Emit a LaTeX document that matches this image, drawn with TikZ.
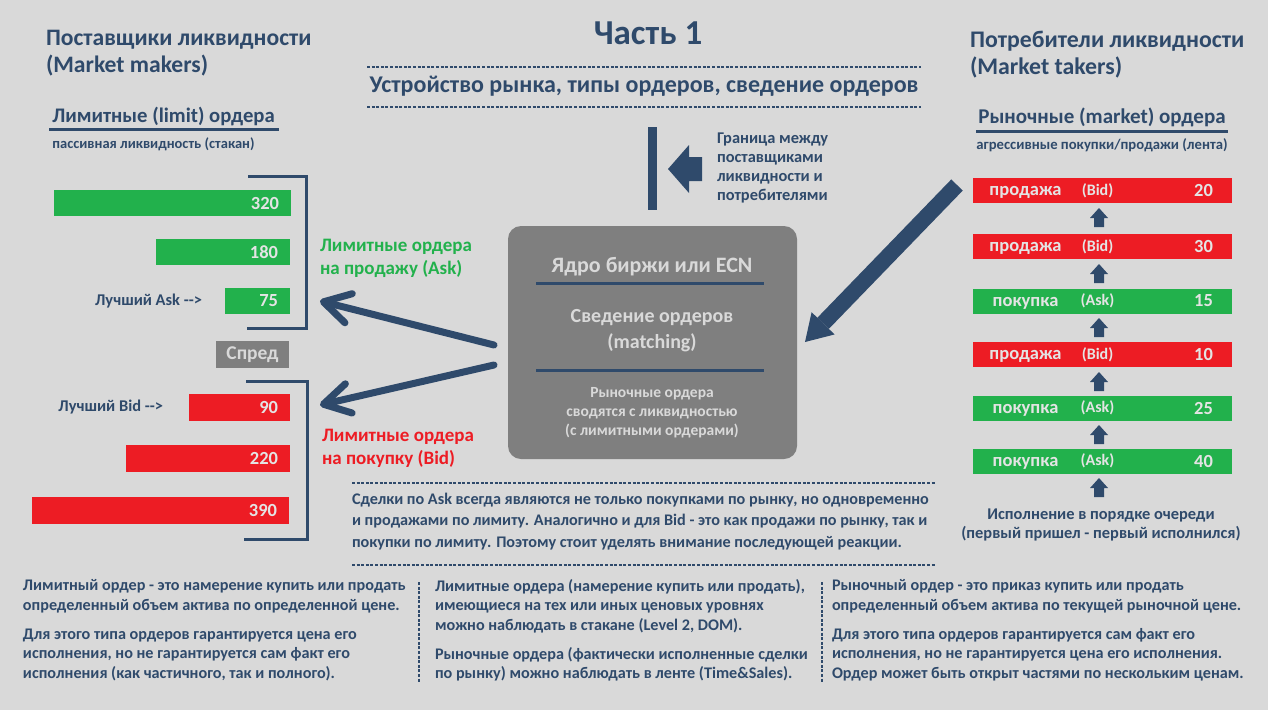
\documentclass[tikz,border=0pt]{standalone}
\usepackage{fontspec}
\setmainfont{Carlito}
\usetikzlibrary{arrows.meta}
\definecolor{bg}{HTML}{D9D9D9}
\definecolor{navy}{HTML}{2F4A6B}
\definecolor{grn}{HTML}{22B14C}
\definecolor{rd}{HTML}{ED1C24}
\definecolor{boxg}{HTML}{7F7F7F}
\definecolor{lt}{HTML}{E4E4E4}
\newcommand\fsz[2]{\fontsize{#1}{#2}\selectfont}
\begin{document}
\begin{tikzpicture}[x=1pt,y=-1pt,
 every node/.style={inner sep=0pt, outer sep=0pt, text=navy, font=\bfseries},
 lbar/.style={minimum height=26pt, align=right, inner xsep=12pt, text=lt, font=\bfseries\fsz{18.5}{20}},
 rbar/.style={minimum width=259pt, minimum height=25pt},
 rword/.style={text=lt, font=\bfseries\fsz{18.5}{20}},
 rpar/.style={text=lt, font=\bfseries\fsz{16}{18}},
 rnum/.style={text=lt, font=\bfseries\fsz{18.5}{20}},
 dashln/.style={navy, line width=1.3pt, dash pattern=on 3pt off 1.6pt},
 bracket/.style={navy, line width=3pt},
 para/.style={align=left, font=\bfseries\fsz{16.2}{19.5}},
 thinarrow/.style={navy, line width=7pt, line cap=round, -{Straight Barb[length=26pt,width=30pt,line cap=round,line join=round]}},
 bigarrow/.style={navy, line width=16pt, -{Triangle[length=26pt,width=32pt,line width=0pt]}}
]
\useasboundingbox (0,0) rectangle (1268,710);
\fill[bg] (0,0) rectangle (1268,710);

% ---------- headings
\node[anchor=west, align=left, font=\bfseries\fsz{23.6}{27}] (hl) at (46,53.5) {Поставщики ликвидности\\(Market makers)};
\node[anchor=west, align=left, font=\bfseries\fsz{23.8}{27}] (hr) at (970,54.5) {Потребители ликвидности\\(Market takers)};
\node[font=\bfseries\fsz{35}{38}] (title) at (648,33) {Часть 1};
\node[font=\bfseries\fsz{24}{26}] (sub) at (644,86) {Устройство рынка, типы ордеров, сведение ордеров};
\draw[dashln] (367,67) -- (921,67);
\draw[dashln] (367,107) -- (921,107);

\node[font=\bfseries\fsz{20.7}{22}] (lim) at (163.5,116.5) {Лимитные (limit) ордера};
\draw[navy, line width=3pt] (49,129.5) -- (279,129.5);
\node[font=\bfseries\fsz{14.5}{16}] (limsub) at (153.5,144) {пассивная ликвидность (стакан)};

\node[font=\bfseries\fsz{21}{22}] (mkt) at (1102,117) {Рыночные (market) ордера};
\draw[navy, line width=3pt] (976,131.5) -- (1228,131.5);
\node[font=\bfseries\fsz{14.7}{16}] (mktsub) at (1102,145) {агрессивные покупки/продажи (лента)};

% ---------- border marker
\fill[navy] (648,127) rectangle (657,210);
\fill[navy] (702,157) -- (689,157) -- (689,145) -- (668,169) -- (689,193) -- (689,181) -- (702,181) -- cycle;
\node[anchor=west, align=left, font=\bfseries\fsz{16.4}{19}] (border) at (717,167.5) {Граница между\\поставщиками\\ликвидности и\\потребителями};

% ---------- left order book
\node[lbar, fill=grn, text width=213pt] (a320) at (172.5,203) {320};
\node[lbar, fill=grn, text width=110pt] (a180) at (223,252) {180};
\node[lbar, fill=grn, text width=41pt] (a75) at (257.5,301) {75};
\node[fill=boxg, minimum width=73pt, minimum height=27pt, text=bg, font=\bfseries\fsz{19.5}{20}] (spread) at (252.5,354.5) {Спред};
\node[lbar, fill=rd, text width=77pt, minimum height=27pt] (b90) at (239.5,407.5) {90};
\node[lbar, fill=rd, text width=140pt, minimum height=27pt] (b220) at (208,458.5) {220};
\node[lbar, fill=rd, text width=233pt, minimum height=27pt] (b390) at (160.5,510.5) {390};

\draw[bracket] (248,176) -- (306,176) -- (306,328) -- (247,328);
\draw[bracket] (246,381) -- (307,381) -- (307,539) -- (244,539);

\node[anchor=east, font=\bfseries\fsz{16.4}{17}] (bestask) at (202,301) {Лучший Ask -{}->};
\node[anchor=east, font=\bfseries\fsz{16.4}{17}] (bestbid) at (163,407) {Лучший Bid -{}->};

\node[anchor=west, align=left, text=grn, font=\bfseries\fsz{19}{23}] (asklab) at (320,258.5) {Лимитные ордера\\на продажу (Ask)};
\node[anchor=west, align=left, text=rd, font=\bfseries\fsz{19}{23}] (bidlab) at (322,448) {Лимитные ордера\\на покупку (Bid)};

% ---------- core
\node[fill=boxg, rounded corners=13pt, minimum width=289pt, minimum height=233pt] (core) at (652.5,342.5) {};
\node[text=bg, font=\bfseries\fsz{22}{24}] (coret) at (652,267) {Ядро биржи или ECN};
\draw[navy, line width=3pt] (536,283) -- (764,283);
\node[text=bg, align=center, font=\bfseries\fsz{20}{26}] (match) at (652,331) {Сведение ордеров\\(matching)};
\draw[navy, line width=3pt] (536,370) -- (764,370);
\node[text=bg, align=center, font=\bfseries\fsz{15.5}{19}] (coretxt) at (652,413) {Рыночные ордера\\сводятся с ликвидностью\\(с лимитными ордерами)};

% ---------- arrows
\coordinate (a1s) at (494,345);
\coordinate (a1e) at (320,301);
\coordinate (a2s) at (494,365);
\coordinate (a2e) at (320,405);
\draw[thinarrow] (a1s) -- (a1e);
\draw[thinarrow] (a2s) -- (a2e);
\coordinate (a3s) at (957,185);
\coordinate (a3e) at (805,342);
\draw[bigarrow] (a3s) -- (a3e);

% ---------- tape
\node[rbar, fill=rd] (r1) at (1102.5,190.5) {};
\node[rbar, fill=rd] (r2) at (1102.5,246.5) {};
\node[rbar, fill=grn] (r3) at (1102.5,301) {};
\node[rbar, fill=rd] (r4) at (1102.5,354.5) {};
\node[rbar, fill=grn] (r5) at (1102.5,408) {};
\node[rbar, fill=grn] (r6) at (1102.5,461) {};
\foreach \r/\w/\p/\n in {r1/продажа/(Bid)/20, r2/продажа/(Bid)/30, r3/покупка/(Ask)/15, r4/продажа/(Bid)/10, r5/покупка/(Ask)/25, r6/покупка/(Ask)/40}{
  \node[rword] (\r w) at ([xshift=-77pt,yshift=-2pt]\r.center) {\w};
  \node[rpar] (\r p) at ([xshift=-5pt]\r.center) {\p};
  \node[rnum] (\r n) at ([xshift=101pt]\r.center) {\n};
}
\foreach \yb in {227,283,337,391,444,497}{
  \fill[navy] (1094,\yb) -- (1094,\yb-9) -- (1090,\yb-9) -- (1099,\yb-19) -- (1108,\yb-9) -- (1104,\yb-9) -- (1104,\yb) -- cycle;
}
\node[align=center, font=\bfseries\fsz{16.4}{19}] (fifo) at (1101,524.5) {Исполнение в порядке очереди\\(первый пришел - первый исполнился)};

% ---------- middle paragraph
\draw[dashln] (352,483) -- (936,483);
\node[para, anchor=west, font=\bfseries\fsz{16.2}{21.5}] (note) at (352,521.5) {Сделки по Ask всегда являются не только покупками по рынку, но одновременно\\и продажами по лимиту. Аналогично и для Bid - это как продажи по рынку, так и\\покупки по лимиту. Поэтому стоит уделять внимание последующей реакции.};
\draw[dashln] (352,565) -- (936,565);

% ---------- bottom blocks
\node[para, anchor=west] (l1) at (23,596.5) {Лимитный ордер - это намерение купить или продать\\определенный объем актива по определенной цене.};
\node[para, anchor=west] (l2) at (23,654.5) {Для этого типа ордеров гарантируется цена его\\исполнения, но не гарантируется сам факт его\\исполнения (как частичного, так и полного).};
\draw[dashln] (419,582) -- (419,682);
\node[para, anchor=west] (m1) at (435,606) {Лимитные ордера (намерение купить или продать),\\имеющиеся на тех или иных ценовых уровнях\\можно наблюдать в стакане (Level 2, DOM).};
\node[para, anchor=west] (m2) at (435,664.5) {Рыночные ордера (фактически исполненные сделки\\по рынку) можно наблюдать в ленте (Time\&Sales).};
\draw[dashln] (822,582) -- (822,682);
\node[para, anchor=west] (rr1) at (832,596.5) {Рыночный ордер - это приказ купить или продать\\определенный объем актива по текущей рыночной цене.};
\node[para, anchor=west] (rr2) at (832,654.5) {Для этого типа ордеров гарантируется сам факт его\\исполнения, но не гарантируется цена его исполнения.\\Ордер может быть открыт частями по нескольким ценам.};
\end{tikzpicture}
\end{document}
